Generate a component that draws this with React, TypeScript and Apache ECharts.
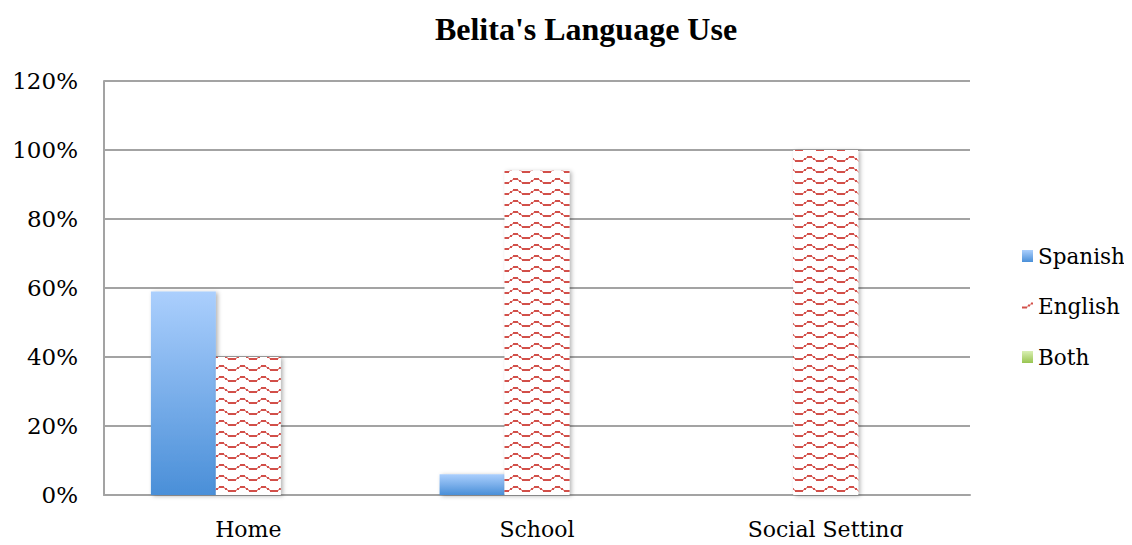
import React, { useEffect, useRef } from "react";
import * as echarts from "echarts";

const categories = ["Home", "School", "Social Setting"];
const spanish = [59, 6, 0];
const english = [40, 94, 100];
const both = [0, 0, 0];
const seriesNames = ["Spanish", "English", "Both"];

// Builds the red wave fill used for the "English" series.
function makeWaveTile(): string {
  const w = 21;
  const h = 11;
  const c = document.createElement("canvas");
  c.width = w;
  c.height = h;
  const ctx = c.getContext("2d")!;
  ctx.fillStyle = "#ffffff";
  ctx.fillRect(0, 0, w, h);
  const red = "rgb(210,80,74)";
  const soft = "rgba(210,80,74,0.5)";
  ctx.fillStyle = red;
  // trough
  ctx.fillRect(0, 6, 5, 2);
  // rising step
  ctx.fillRect(6, 4, 2, 2);
  // crest
  ctx.fillRect(9, 2, 5, 2);
  // falling step
  ctx.fillRect(15, 4, 2, 2);
  // trough start of the next wave
  ctx.fillRect(18, 6, 3, 2);
  // softened edges
  ctx.fillStyle = soft;
  ctx.fillRect(5, 5, 1, 2);
  ctx.fillRect(8, 3, 1, 2);
  ctx.fillRect(14, 3, 1, 2);
  ctx.fillRect(17, 5, 1, 2);
  return c.toDataURL();
}

export default function App() {
  const ref = useRef<HTMLDivElement>(null);

  useEffect(() => {
    if (!ref.current) return;
    const chart = echarts.init(ref.current, undefined, { renderer: "svg" });
    const tile = makeWaveTile();
    const wave = {
      image: tile,
      repeat: "repeat",
      imageWidth: 21,
      imageHeight: 11,
    };
    const blue = new echarts.graphic.LinearGradient(0, 0, 0, 1, [
      { offset: 0, color: "#abcffd" },
      { offset: 1, color: "#4a8fd8" },
    ]);
    const green = new echarts.graphic.LinearGradient(0, 0, 0, 1, [
      { offset: 0, color: "#d9f0b4" },
      { offset: 1, color: "#98c450" },
    ]);
    const shadow = {
      shadowBlur: 4,
      shadowColor: "rgba(0,0,0,0.3)",
      shadowOffsetX: 2,
      shadowOffsetY: 1,
    };
    const font = "DejaVu Serif";
    chart.setOption({
      animation: false,
      backgroundColor: "#ffffff",
      title: {
        text: "Belita's Language Use",
        left: 581,
        textAlign: "center",
        top: 8,
        textStyle: {
          fontFamily: "Liberation Serif",
          fontWeight: "bold",
          fontSize: 32,
          color: "#000",
        },
      },
      legend: {
        orient: "vertical",
        left: 1017,
        top: 240,
        itemWidth: 11,
        itemHeight: 12,
        itemGap: 28.5,
        icon: "rect",
        data: seriesNames,
        textStyle: {
          fontFamily: font,
          fontSize: 21.5,
          color: "#000",
        },
      },
      grid: { left: 104, right: 162, top: 81, bottom: 50 },
      xAxis: {
        type: "category",
        data: categories,
        axisTick: { show: false },
        axisLine: { lineStyle: { color: "#a3a3a3", width: 2 } },
        axisLabel: {
          margin: 23,
          fontFamily: font,
          fontSize: 22,
          color: "#000",
        },
      },
      yAxis: {
        type: "value",
        min: 0,
        max: 120,
        interval: 20,
        axisLine: { show: true, lineStyle: { color: "#a3a3a3", width: 2 } },
        axisTick: { show: false },
        splitLine: { lineStyle: { color: "#a3a3a3", width: 2 } },
        axisLabel: {
          formatter: "{value}%",
          margin: 26,
          fontFamily: font,
          fontSize: 23,
          color: "#000",
        },
      },
      series: [
        {
          name: "Spanish",
          type: "bar",
          data: spanish,
          barGap: "0%",
          barCategoryGap: "32.5%",
          itemStyle: { color: blue, ...shadow },
        },
        {
          name: "English",
          type: "bar",
          data: english,
          itemStyle: { color: wave, ...shadow },
        },
        {
          name: "Both",
          type: "bar",
          data: both,
          itemStyle: { color: green },
        },
      ],
    });
    return () => chart.dispose();
  }, []);

  return <div ref={ref} style={{ width: 1132, height: 545, margin: -8 }} />;
}
